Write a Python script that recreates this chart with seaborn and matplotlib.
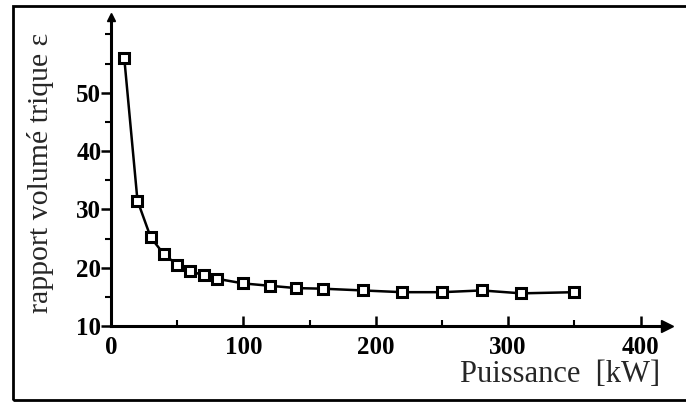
import matplotlib
matplotlib.use("Agg")
import matplotlib.pyplot as plt
from matplotlib.patches import Rectangle
from matplotlib.ticker import MultipleLocator
import seaborn as sns
import pandas as pd

# Data
puissance = [10, 20, 30, 40, 50, 60, 70, 80, 100, 120, 140, 160, 190, 220, 250, 280, 310, 350]
rapport = [56.0, 31.5, 25.2, 22.3, 20.5, 19.4, 18.7, 18.1, 17.3, 16.9, 16.5, 16.4, 16.1, 15.8, 15.8, 16.1, 15.6, 15.8]
x_ticks = [0, 100, 200, 300, 400]
y_ticks = [10, 20, 30, 40, 50]
x_label = "Puissance  [kW]"
y_label = "rapport volumé trique ε"

sns.set_style("white")
plt.rcParams['font.family'] = ['Liberation Serif', 'DejaVu Serif']

df = pd.DataFrame({"P": puissance, "e": rapport})

fig = plt.figure(figsize=(6.86, 4.05), dpi=100)
ax = fig.add_axes([111/686, (405-326)/405, 556/686, 309/405])
ax.patch.set_alpha(0)

sns.lineplot(data=df, x="P", y="e", ax=ax, color="black", linewidth=1.8,
             marker="s", markersize=7.5, markerfacecolor="white",
             markeredgecolor="black", markeredgewidth=2.2, clip_on=False)

ax.set_xlim(0, 420)
ax.set_ylim(10, 63)
ax.set_xticks(x_ticks)
ax.set_yticks(y_ticks)
ax.xaxis.set_minor_locator(MultipleLocator(50))
ax.yaxis.set_minor_locator(MultipleLocator(5))
ax.set_xlabel("")
ax.set_ylabel("")

for s in ["top", "right"]:
    ax.spines[s].set_visible(False)
for s in ["left", "bottom"]:
    ax.spines[s].set_linewidth(2.2)
    ax.spines[s].set_color("black")

ax.tick_params(axis="y", which="major", left=True, direction="out", length=7, width=1.8,
               labelsize=18, pad=0, colors="black")
ax.tick_params(axis="y", which="minor", left=True, direction="out", length=4, width=1.5,
               colors="black")
ax.tick_params(axis="x", which="major", bottom=True, direction="in", length=7, width=1.8,
               labelsize=18, pad=7, colors="black")
ax.tick_params(axis="x", which="minor", bottom=True, direction="in", length=4, width=1.5,
               colors="black")
for lab in ax.get_xticklabels() + ax.get_yticklabels():
    lab.set_fontweight("bold")

# axis arrows
ax.plot(1.0, 0, marker=">", markersize=8, color="black",
        transform=ax.transAxes, clip_on=False)
ax.plot(0, 1.0, marker="^", markersize=6, color="black",
        transform=ax.transAxes, clip_on=False)

fig.text(660/686, (405-382)/405, x_label, ha="right", va="baseline", fontsize=22)
fig.text(41/686, (405-173)/405, y_label, ha="center", va="center",
         rotation=90, fontsize=21.5)

# outer frame
fig.patches.append(Rectangle((13/686, (405-400)/405), 700/686, 394/405,
                             transform=fig.transFigure, fill=False,
                             edgecolor="black", linewidth=2.0))

fig.savefig("out.png", dpi=100)
